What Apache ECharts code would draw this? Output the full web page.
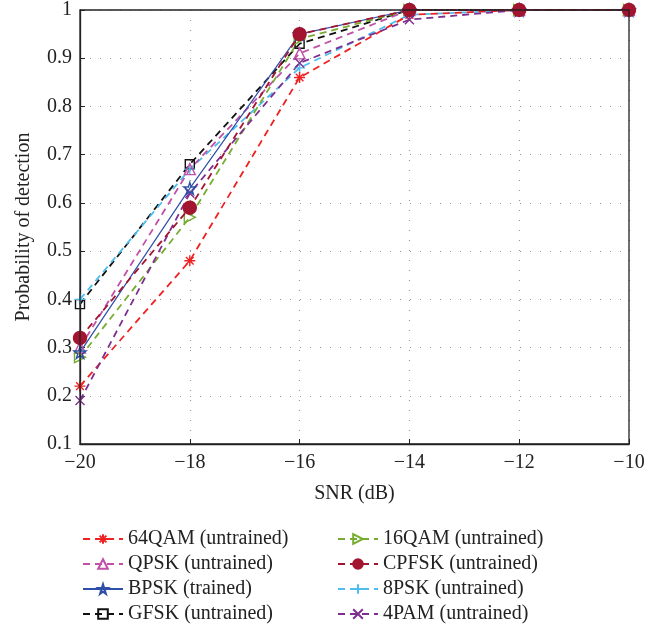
<!DOCTYPE html>
<html><head><meta charset="utf-8">
<script src="https://cdn.jsdelivr.net/npm/echarts@6/dist/echarts.min.js"></script>
<style>html,body{margin:0;padding:0;background:#fff}#c{width:660px;height:631px}</style>
</head><body><div id="c"></div>
<script>
const snr = [-20, -18, -16, -14, -12, -10];
const qam64 = [0.22, 0.48, 0.86, 0.99, 1, 1];
const qam16 = [0.28, 0.57, 0.94, 1, 1, 1];
const qpsk  = [0.30, 0.67, 0.91, 1, 1, 1];
const cpfsk = [0.32, 0.59, 0.95, 1, 1, 1];
const bpsk  = [0.29, 0.63, 0.95, 1, 1, 1];
const psk8  = [0.40, 0.67, 0.88, 0.99, 1, 1];
const gfsk  = [0.39, 0.68, 0.93, 1, 1, 1];
const pam4  = [0.19, 0.62, 0.89, 0.98, 1, 1];
const names = ['64QAM (untrained)','16QAM (untrained)','QPSK (untrained)','CPFSK (untrained)','BPSK (trained)','8PSK (untrained)','GFSK (untrained)','4PAM (untrained)'];

const FONT = '"Liberation Serif", "DejaVu Serif", serif';
const pts = arr => snr.map((x,i)=>[x, arr[i]]);
const STAR = 'path://M50,0L61,35L98,35L68,57L79,91L50,70L21,91L32,57L2,35L39,35Z';
const AST = 'path://M50,0L50,100M0,50L100,50M15,15L85,85M85,15L15,85';
const PLUS = 'path://M50,0L50,100M0,50L100,50';
const XS = 'path://M0,0L100,100M100,0L0,100';
const RTRI = 'path://M0,0L100,50L0,100Z';

function mk(name, data, color, symbol, size, opts) {
  opts = opts || {};
  return {
    name, type:'line', data: pts(data), symbol, symbolSize: size,
    lineStyle: {color, width: opts.lw || 1.8, type: opts.solid ? 'solid' : [7,5]},
    itemStyle: {color: opts.fill || 'rgba(255,255,255,0)', borderColor: color, borderWidth: opts.bw || 1.4},
    emphasis: {disabled: true}, animation: false, z: opts.z || 2
  };
}
const series = [
  mk(names[6], gfsk, '#111111', 'rect', 9),
  mk(names[5], psk8, '#4dbeee', PLUS, 11),
  mk(names[2], qpsk, '#c050a8', 'triangle', 11),
  mk(names[1], qam16, '#77ac30', RTRI, 11),
  mk(names[0], qam64, '#ee2222', AST, 11),
  mk(names[7], pam4, '#7e2f8e', XS, 9),
  mk(names[4], bpsk, '#2e4fa8', STAR, 12, {solid:true, lw:1.2}),
  mk(names[3], cpfsk, '#a2142f', 'circle', 13, {fill:'#a2142f', z:3}),
];
const chart = echarts.init(document.getElementById('c'), null, {renderer:'canvas'});
const legendCommon = {
  orient:'vertical', top: 529, height: 200, padding: 0, itemWidth: 40, itemHeight: 12, itemGap: 5,
  textStyle:{fontFamily:FONT, fontSize:20, color:'#222'}, selectedMode:false
};
chart.setOption({
  animation:false,
  grid:{left:80, right:31, top:10, bottom:187, containLabel:false},
  xAxis:{type:'value', min:-20, max:-10, interval:2,
    name:'SNR (dB)', nameLocation:'middle', nameGap:40,
    nameTextStyle:{fontFamily:FONT, fontSize:20, color:'#222'},
    axisLine:{show:true, onZero:false, lineStyle:{color:'#222', width:1.3}},
    axisTick:{show:true, inside:true, length:5, lineStyle:{color:'#222'}},
    axisLabel:{fontFamily:FONT, fontSize:20, color:'#222', margin:9,
      formatter: v => (v<0 ? '\u2212' + Math.abs(v) : String(v))},
    splitLine:{show:true, lineStyle:{color:'#999', type:[1,9], width:1.2}}
  },
  yAxis:{type:'value', min:0.1, max:1, interval:0.1,
    name:'Probability of detection', nameLocation:'middle', nameGap:46,
    nameTextStyle:{fontFamily:FONT, fontSize:20, color:'#222'},
    axisLine:{show:true, lineStyle:{color:'#222', width:1.3}},
    axisTick:{show:true, inside:true, length:5, lineStyle:{color:'#222'}},
    axisLabel:{fontFamily:FONT, fontSize:20, color:'#222', margin:8,
      formatter: v => String(Math.round(v*10)/10)},
    splitLine:{show:true, lineStyle:{color:'#999', type:[1,9], width:1.2}}
  },
  graphic:[{type:'rect', shape:{x:80, y:10, width:549, height:434}, style:{fill:'none', stroke:'#222', lineWidth:1.3}, silent:true, z:10}],
  legend:[
    Object.assign({left:82, data:[names[0], names[2], names[4], names[6]]}, legendCommon),
    Object.assign({left:337, data:[names[1], names[3], names[5], names[7]]}, legendCommon)
  ],
  series
});
</script></body></html>
